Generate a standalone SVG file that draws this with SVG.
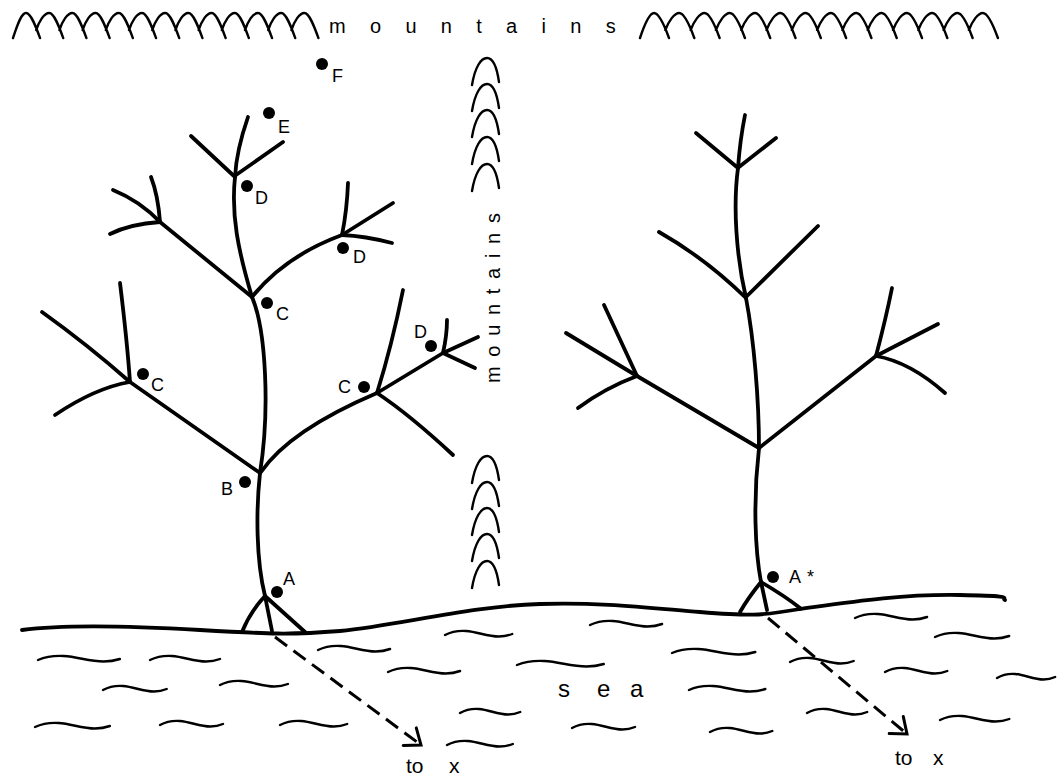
<svg xmlns="http://www.w3.org/2000/svg" width="1064" height="779" viewBox="0 0 1064 779">
<style>
.br{fill:none;stroke:#000;stroke-width:3.8;stroke-linecap:round;stroke-linejoin:round}
.mt{fill:none;stroke:#000;stroke-width:2.4;stroke-linecap:round;stroke-linejoin:round}
.wv{fill:none;stroke:#000;stroke-width:2.4;stroke-linecap:round}
.dash{fill:none;stroke:#000;stroke-width:3;stroke-dasharray:15 8}
.dot{fill:#000}
.lbl{font-family:"Liberation Sans",Arial,sans-serif;font-size:18px;fill:#000}
.big{font-family:"Liberation Sans",Arial,sans-serif;font-size:20px;fill:#000}
</style>
<defs>
<path id="wave" d="M0,4 C7,0.5 14,-0.5 22,0 C34,0.8 44,5.5 56,5.5 C62,5.5 66,4.5 70,3" vector-effect="non-scaling-stroke"/>
<marker id="chev" viewBox="-16 -14 20 28" markerWidth="20" markerHeight="28" markerUnits="userSpaceOnUse" refX="0" refY="0" orient="auto" overflow="visible">
<path d="M-14,-11 L0,0 L-14,11" fill="none" stroke="#000" stroke-width="3" stroke-dasharray="none" stroke-linecap="round" stroke-linejoin="miter"/>
</marker>
</defs>
<rect width="1064" height="779" fill="#fff"/>

<g id="mountains-top">
<path class="mt" d="M13,38 c4,-12 8,-25 13,-25 c5,0 10,14 14,25 m-3.8,-8 c3,-9 8,-17 13,-17 c5,0 10,14 14,25 m-3.8,-8 c3,-9 8,-17 13,-17 c5,0 10,14 14,25 m-3.8,-8 c3,-9 8,-17 13,-17 c5,0 10,14 14,25 m-3.8,-8 c3,-9 8,-17 13,-17 c5,0 10,14 14,25 m-3.8,-8 c3,-9 8,-17 13,-17 c5,0 10,14 14,25 m-3.8,-8 c3,-9 8,-17 13,-17 c5,0 10,14 14,25 m-3.8,-8 c3,-9 8,-17 13,-17 c5,0 10,14 14,25 m-3.8,-8 c3,-9 8,-17 13,-17 c5,0 10,14 14,25 m-3.8,-8 c3,-9 8,-17 13,-17 c5,0 10,14 14,25 m-3.8,-8 c3,-9 8,-17 13,-17 c5,0 10,14 14,25 m-3.8,-8 c3,-9 8,-17 13,-17 c5,0 10,14 14,25 m-3.8,-8 c3,-9 8,-17 13,-17 c5,0 10,14 14,25"/>
<path class="mt" d="M640,38 c4,-12 9,-25 14,-25 c5,0 11,14 15,25 m-3.7,-8 c3.5,-9 9,-17 14,-17 c5,0 11,14 15,25 m-3.7,-8 c3.5,-9 9,-17 14,-17 c5,0 11,14 15,25 m-3.7,-8 c3.5,-9 9,-17 14,-17 c5,0 11,14 15,25 m-3.7,-8 c3.5,-9 9,-17 14,-17 c5,0 11,14 15,25 m-3.7,-8 c3.5,-9 9,-17 14,-17 c5,0 11,14 15,25 m-3.7,-8 c3.5,-9 9,-17 14,-17 c5,0 11,14 15,25 m-3.7,-8 c3.5,-9 9,-17 14,-17 c5,0 11,14 15,25 m-3.7,-8 c3.5,-9 9,-17 14,-17 c5,0 11,14 15,25 m-3.7,-8 c3.5,-9 9,-17 14,-17 c5,0 11,14 15,25 m-3.7,-8 c3.5,-9 9,-17 14,-17 c5,0 11,14 15,25 m-3.7,-8 c3.5,-9 9,-17 14,-17 c5,0 11,14 15,25 m-3.7,-8 c3.5,-9 9,-17 14,-17 c5,0 11,14 15,25 m-3.7,-8 c3.5,-9 9,-17 14,-17 c5,0 11,14 15,25"/>
<text class="big" x="329" y="33" letter-spacing="24.3">mountains</text>
</g>

<g id="mountains-middle">
<path class="mt" d="M472,85 c3,-18 9,-27 15,-27 c6,0 10,10 12,24 M472,111 c3,-18 9,-27 15,-27 c6,0 10,10 12,24 M472,137 c3,-18 9,-27 15,-27 c6,0 10,10 12,24 M472,164 c3,-18 9,-27 15,-27 c6,0 10,10 12,24 M472,191 c3,-18 9,-27 15,-27 c6,0 10,10 12,24"/>
<path class="mt" d="M472,483 c3,-18 9,-27 15,-27 c6,0 10,10 12,24 M472,509 c3,-18 9,-27 15,-27 c6,0 10,10 12,24 M472,535 c3,-18 9,-27 15,-27 c6,0 10,10 12,24 M472,561 c3,-18 9,-27 15,-27 c6,0 10,10 12,24 M472,588 c3,-18 9,-27 15,-27 c6,0 10,10 12,24"/>
<text class="big" transform="translate(500,383) rotate(-90)" letter-spacing="9.7">mountains</text>
</g>

<g id="ground">
<path class="br" stroke-width="4" d="M22,630 C60,625 130,626 200,630 S290,635 340,631 C400,625 470,606 540,604 C600,602 650,608 700,612 S760,616 800,609 C850,602 900,594 960,595 S1000,598 1005,600"/>
</g>

<g id="sea">
<use href="#wave" class="wv" transform="translate(38,656) scale(1.17,1)"/>
<use href="#wave" class="wv" transform="translate(150,656) scale(1,1)"/>
<use href="#wave" class="wv" transform="translate(318,646) scale(1.03,1)"/>
<use href="#wave" class="wv" transform="translate(445,631) scale(0.96,1)"/>
<use href="#wave" class="wv" transform="translate(103,686) scale(0.91,1)"/>
<use href="#wave" class="wv" transform="translate(220,681) scale(0.97,1)"/>
<use href="#wave" class="wv" transform="translate(388,668) scale(1.03,1)"/>
<use href="#wave" class="wv" transform="translate(517,661) scale(1.24,1)"/>
<use href="#wave" class="wv" transform="translate(35,723) scale(1.07,1)"/>
<use href="#wave" class="wv" transform="translate(160,721) scale(0.9,1)"/>
<use href="#wave" class="wv" transform="translate(280,721) scale(0.96,1)"/>
<use href="#wave" class="wv" transform="translate(460,709) scale(0.86,1)"/>
<use href="#wave" class="wv" transform="translate(447,741) scale(0.94,1)"/>
<use href="#wave" class="wv" transform="translate(590,621) scale(1.03,1)"/>
<use href="#wave" class="wv" transform="translate(855,614) scale(1.03,1)"/>
<use href="#wave" class="wv" transform="translate(935,633) scale(1.06,1)"/>
<use href="#wave" class="wv" transform="translate(672,649) scale(1.19,1)"/>
<use href="#wave" class="wv" transform="translate(790,658) scale(0.91,1)"/>
<use href="#wave" class="wv" transform="translate(885,668) scale(0.89,1)"/>
<use href="#wave" class="wv" transform="translate(997,674) scale(0.83,1)"/>
<use href="#wave" class="wv" transform="translate(689,686) scale(1.09,1)"/>
<use href="#wave" class="wv" transform="translate(807,709) scale(0.86,1)"/>
<use href="#wave" class="wv" transform="translate(940,716) scale(0.99,1)"/>
<use href="#wave" class="wv" transform="translate(572,724) scale(0.9,1)"/>
<use href="#wave" class="wv" transform="translate(710,728) scale(0.89,1)"/>
<text x="558 597 630" y="697" font-family="Liberation Sans, Arial, sans-serif" font-size="24">sea</text>
</g>

<g id="tree-left">
<path class="br" d="M248,117 C240,140 236,158 235,177"/>
<path class="br" d="M235,177 L191,136"/>
<path class="br" d="M236,175 L283,142"/>
<path class="br" d="M235,177 C231,215 238,250 252,297"/>
<path class="br" d="M252,297 L160,222"/>
<path class="br" d="M160,222 Q158,195 151,177"/>
<path class="br" d="M113,190 Q140,201 160,222"/>
<path class="br" d="M160,222 Q130,224 110,234"/>
<path class="br" d="M252,297 Q285,256 342,235"/>
<path class="br" d="M342,235 Q347,210 348,183"/>
<path class="br" d="M342,235 L393,203"/>
<path class="br" d="M342,235 Q365,236 392,243"/>
<path class="br" d="M252,297 C266,330 270,410 260,473"/>
<path class="br" d="M260,473 L130,382"/>
<path class="br" d="M130,382 Q127,340 120,283"/>
<path class="br" d="M130,382 Q88,345 42,312"/>
<path class="br" d="M130,382 Q95,388 55,415"/>
<path class="br" d="M261,472 Q290,430 377,393"/>
<path class="br" d="M377,393 Q392,345 403,290"/>
<path class="br" d="M377,393 Q410,415 453,455"/>
<path class="br" d="M377,393 L443,353 L478,337"/>
<path class="br" d="M443,353 Q447,335 447,320"/>
<path class="br" d="M443,353 L475,368"/>
<path class="br" d="M260,473 C256,510 256,560 265,596"/>
<path class="br" d="M265,596 Q250,612 242,632"/>
<path class="br" d="M265,596 L272,631"/>
<path class="br" d="M265,596 L305,632"/>
</g>

<g id="tree-right">
<path class="br" d="M745,115 Q740,140 738,168"/>
<path class="br" d="M738,168 L696,133"/>
<path class="br" d="M739,167 L776,138"/>
<path class="br" d="M738,168 C733,205 736,255 746,298"/>
<path class="br" d="M746,298 Q705,258 659,232"/>
<path class="br" d="M747,296 L818,226"/>
<path class="br" d="M746,298 C754,340 759,400 759,448"/>
<path class="br" d="M759,448 L637,376"/>
<path class="br" d="M759,448 L876,356"/>
<path class="br" d="M637,376 L604,305"/>
<path class="br" d="M637,376 L566,333"/>
<path class="br" d="M637,376 Q605,388 578,408"/>
<path class="br" d="M876,356 Q886,318 892,288"/>
<path class="br" d="M876,356 L938,324"/>
<path class="br" d="M876,356 Q910,362 945,393"/>
<path class="br" d="M759,448 C753,500 755,550 761,582"/>
<path class="br" d="M761,582 Q748,598 740,612"/>
<path class="br" d="M761,582 L767,610"/>
<path class="br" d="M761,582 Q785,596 800,608"/>
</g>

<g id="point-F"><circle class="dot" cx="322" cy="64" r="6"/><text class="lbl" x="332" y="82">F</text></g>
<g id="point-E"><circle class="dot" cx="269" cy="113" r="6"/><text class="lbl" x="278" y="133">E</text></g>
<g id="point-D1"><circle class="dot" cx="247" cy="186" r="6"/><text class="lbl" x="255" y="204">D</text></g>
<g id="point-D2"><circle class="dot" cx="343" cy="248" r="6"/><text class="lbl" x="353" y="263">D</text></g>
<g id="point-D3"><circle class="dot" cx="431" cy="346" r="6"/><text class="lbl" x="414" y="338">D</text></g>
<g id="point-C1"><circle class="dot" cx="267" cy="303" r="6"/><text class="lbl" x="276" y="320">C</text></g>
<g id="point-C2"><circle class="dot" cx="143" cy="374" r="6"/><text class="lbl" x="151" y="391">C</text></g>
<g id="point-C3"><circle class="dot" cx="364" cy="387" r="6"/><text class="lbl" x="338" y="393">C</text></g>
<g id="point-B"><circle class="dot" cx="245" cy="482" r="6"/><text class="lbl" x="221" y="495">B</text></g>
<g id="point-A"><circle class="dot" cx="277" cy="592" r="6"/><text class="lbl" x="283" y="585">A</text></g>
<g id="point-Astar"><circle class="dot" cx="773" cy="577" r="6"/><text class="lbl" x="789" y="583" letter-spacing="6">A*</text></g>

<g id="connectors">
<line class="dash" x1="275" y1="637" x2="421" y2="745" marker-end="url(#chev)"/>
<line class="dash" x1="768" y1="618" x2="907" y2="734" marker-end="url(#chev)"/>
<text x="406" y="773" font-family="Liberation Sans, Arial, sans-serif" font-size="21">to <tspan x="449">x</tspan></text>
<text x="895" y="765" font-family="Liberation Sans, Arial, sans-serif" font-size="21">to <tspan x="933">x</tspan></text>
</g>
</svg>
